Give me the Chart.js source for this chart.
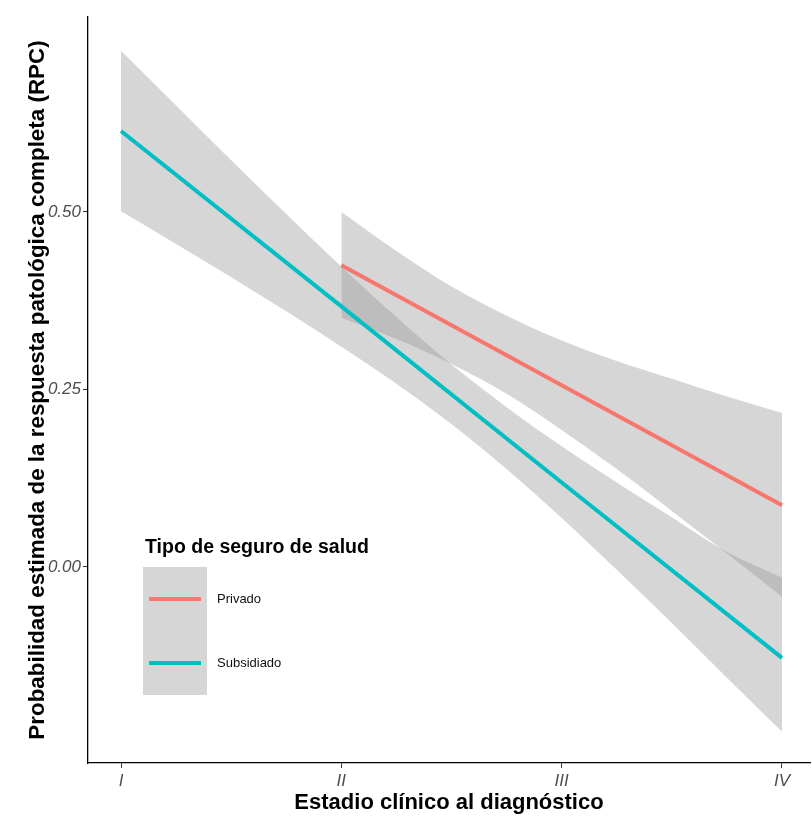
<!DOCTYPE html>
<html>
<head>
<meta charset="utf-8">
<script src="https://cdn.jsdelivr.net/npm/chart.js@4.4.0/dist/chart.umd.min.js"></script>
<style>
  body { margin: 0; background: #fff; }
  #wrap { width: 812px; height: 819px; }
</style>
</head>
<body>
<div id="wrap"><canvas id="mychart" width="812" height="819"></canvas></div>
<script>
// stage on the x axis
var stageLabels = ['I', 'II', 'III', 'IV'];
var stageX = [1, 2, 3, 4];

// Subsidiado (teal) fitted line
var subsFit = [0.614, 0.367, 0.119, -0.128];
// its ribbon, read at quarter steps
var subsBandX = [1, 1.25, 1.5, 1.75, 2, 2.25, 2.5, 2.75, 3, 3.25, 3.5, 3.75, 4];
var subsUpper = [0.727, 0.650, 0.573, 0.497, 0.423, 0.352, 0.285, 0.225, 0.170, 0.119, 0.070, 0.021, -0.015];
var subsLower = [0.501, 0.455, 0.408, 0.360, 0.310, 0.258, 0.201, 0.138, 0.069, -0.004, -0.079, -0.156, -0.232];

// Privado (red) starts at stage II
var privX = [2, 3, 4];
var privFit = [0.425, 0.256, 0.087];
var privBandX = [2, 2.25, 2.5, 2.75, 3, 3.25, 3.5, 3.75, 4];
var privUpper = [0.500, 0.445, 0.395, 0.354, 0.319, 0.290, 0.265, 0.240, 0.217];
var privLower = [0.351, 0.321, 0.286, 0.244, 0.193, 0.138, 0.079, 0.019, -0.042];

var yTickValues = [0, 0.25, 0.5];
var yTickLabels = ['0.00', '0.25', '0.50'];

var seriesNames = ['Privado', 'Subsidiado'];
var legendTitle = 'Tipo de seguro de salud';

var red = '#F8766D';
var teal = '#00BFC4';
var ribbon = 'rgba(153,153,153,0.4)';
var font = '"Liberation Sans", Arial, sans-serif';

function pts(xs, ys) {
  return xs.map(function (x, i) { return { x: x, y: ys[i] }; });
}

// legend drawn inside the plot, ggplot style
var legendBox = {
  id: 'legendBox',
  afterDraw: function (chart) {
    var c = chart.ctx;
    c.save();
    c.fillStyle = '#000';
    c.font = 'bold 19.5px ' + font;
    c.textBaseline = 'middle';
    c.fillText(legendTitle, 145, 548);
    c.fillStyle = '#d6d6d6';
    c.fillRect(143, 567, 64, 128);
    var cols = [red, teal];
    var ys = [599, 663];
    for (var i = 0; i < seriesNames.length; i++) {
      c.strokeStyle = cols[i];
      c.lineWidth = 4;
      c.beginPath();
      c.moveTo(149, ys[i]);
      c.lineTo(201, ys[i]);
      c.stroke();
      c.fillStyle = '#111';
      c.font = '13px ' + font;
      c.fillText(seriesNames[i], 217, ys[i]);
    }
    c.restore();
  }
};

var band = { showLine: true, borderWidth: 0, pointRadius: 0, cubicInterpolationMode: 'monotone' };

var ctx = document.getElementById('mychart').getContext('2d');
new Chart(ctx, {
  type: 'scatter',
  data: {
    datasets: [
      { label: 'Privado', data: pts(privX, privFit), showLine: true, borderColor: red, borderWidth: 4, pointRadius: 0, fill: false },
      { label: 'Subsidiado', data: pts(stageX, subsFit), showLine: true, borderColor: teal, borderWidth: 4, pointRadius: 0, fill: false },
      Object.assign({ label: 'privUp', data: pts(privBandX, privUpper), backgroundColor: ribbon, fill: '+1' }, band),
      Object.assign({ label: 'privLo', data: pts(privBandX, privLower), fill: false }, band),
      Object.assign({ label: 'subsUp', data: pts(subsBandX, subsUpper), backgroundColor: ribbon, fill: '+1' }, band),
      Object.assign({ label: 'subsLo', data: pts(subsBandX, subsLower), fill: false }, band)
    ]
  },
  options: {
    responsive: false,
    animation: false,
    devicePixelRatio: 1,
    layout: { padding: { left: 0, right: 2, top: 17, bottom: 0 } },
    plugins: {
      legend: { display: false },
      tooltip: { enabled: false },
      filler: { drawTime: 'beforeDatasetsDraw' }
    },
    scales: {
      x: {
        type: 'linear',
        min: 0.8502,
        max: 4.1271,
        afterBuildTicks: function (axis) { axis.ticks = stageX.map(function (v) { return { value: v }; }); },
        afterFit: function (axis) { axis.height = 56; },
        ticks: {
          autoSkip: false, maxRotation: 0, padding: 3,
          color: '#4d4d4d',
          font: { family: font, size: 17, style: 'italic' },
          callback: function (v) { return stageLabels[stageX.indexOf(v)]; }
        },
        grid: { drawOnChartArea: false, drawTicks: true, tickLength: 5, color: '#333' },
        border: { display: true, color: '#000', width: 1.3 },
        title: {
          display: true, text: 'Estadio clínico al diagnóstico', color: '#000',
          font: { family: font, size: 22, weight: 'bold' }, padding: { top: 0, bottom: 3 }
        }
      },
      y: {
        type: 'linear',
        min: -0.2761,
        max: 0.7746,
        afterBuildTicks: function (axis) { axis.ticks = yTickValues.map(function (v) { return { value: v }; }); },
        afterFit: function (axis) { axis.width = 88; },
        ticks: {
          autoSkip: false, padding: 2,
          color: '#4d4d4d',
          font: { family: font, size: 17, style: 'italic' },
          callback: function (v) { return yTickLabels[yTickValues.indexOf(v)]; }
        },
        grid: { drawOnChartArea: false, drawTicks: true, tickLength: 5, color: '#333' },
        border: { display: true, color: '#000', width: 1.3 },
        title: {
          display: true, text: 'Probabilidad estimada de la respuesta patológica completa (RPC)', color: '#000',
          font: { family: font, size: 22.4, weight: 'bold' }, padding: { top: 24, bottom: 0 }
        }
      }
    }
  },
  plugins: [legendBox]
});
</script>
</body>
</html>
